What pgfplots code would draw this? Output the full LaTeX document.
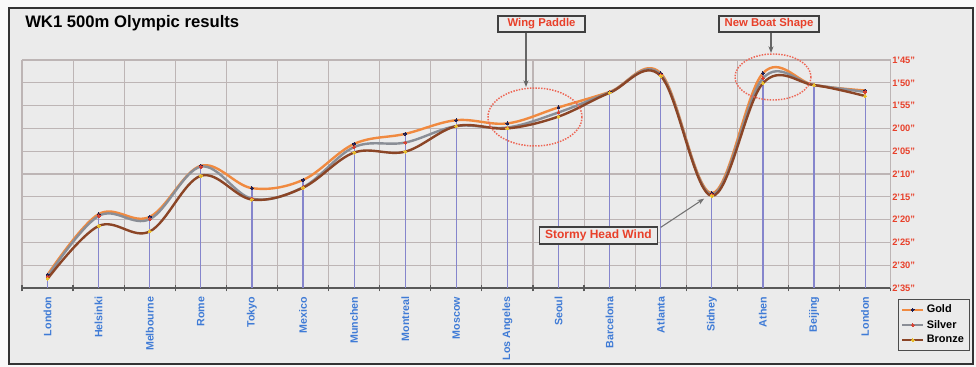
\documentclass[border=0pt]{standalone}
\usepackage{pgfplots}
\pgfplotsset{compat=1.18}
\usepackage{pgfplotstable}
\usepackage{fontspec}
\setmainfont{Liberation Sans}
\usetikzlibrary{arrows.meta}

\definecolor{goldline}{HTML}{F08A40}
\definecolor{silverline}{HTML}{8A8E96}
\definecolor{bronzeline}{HTML}{8B4526}
\definecolor{gridgray}{HTML}{BDB5B5}
\definecolor{dropblue}{HTML}{8585CC}
\definecolor{tickblue}{HTML}{3F7BD6}
\definecolor{labelred}{HTML}{E8402A}
\definecolor{panel}{HTML}{EBEBEB}
\definecolor{goldmark}{HTML}{1E1E50}
\definecolor{silvermark}{HTML}{D84030}
\definecolor{bronzemark}{HTML}{E8C030}

% winning times in seconds, one row per Games
\pgfplotstableread{
x gold silver bronze
0  152.1 152.5 153.0
1  138.8 139.2 141.4
2  139.4 139.9 142.6
3  128.2 128.4 130.4
4  133.1 135.4 135.6
5  131.3 132.9 133.0
6  123.4 124.1 125.3
7  121.2 123.1 125.1
8  118.2 119.5 119.5
9  118.9 119.8 120.0
10 115.4 116.5 117.4
11 112.0 112.1 112.2
12 107.9 108.2 108.5
13 134.2 134.5 134.8
14 107.9 109.0 110.1
15 110.5 110.5 110.5
16 111.7 112.0 112.9
}\results

\begin{document}
\begin{tikzpicture}
\path[use as bounding box] (0,0) rectangle (732pt,275.25pt);
\begin{scope}[yshift=275.25pt, x=0.75pt, y=-0.75pt]
  \fill[white!95!gray] (0,0) rectangle (976,367);
  \draw[fill=panel, draw=black!80, line width=1.4pt] (9,8) rectangle (973,364);
  \node[anchor=base west, inner sep=0pt, font=\bfseries\fontsize{12.5}{14}\selectfont] at (25,28) {WK1 500m Olympic results};
\end{scope}

\begin{axis}[
  at={(16.5pt,59.25pt)}, anchor=south west,
  scale only axis, width=651.5pt, height=171pt,
  xmin=-0.5, xmax=16.5, ymin=105, ymax=155, y dir=reverse,
  axis x line*=bottom, axis y line*=right,
  x axis line style={-, draw=black!65, line width=1pt},
  y axis line style={-, draw=gridgray, line width=0.8pt},
  xtick={-0.5,0.5,1.5,2.5,3.5,4.5,5.5,6.5,7.5,8.5,9.5,10.5,11.5,12.5,13.5,14.5,15.5,16.5},
  x tick label as interval,
  xticklabels={London,Helsinki,Melbourne,Rome,Tokyo,Mexico,Munchen,Montreal,Moscow,Los Angeles,Seoul,Barcelona,Atlanta,Sidney,Athen,Beijing,London},
  xticklabel style={rotate=90, anchor=east, text=tickblue, font=\bfseries\fontsize{8}{9}\selectfont, inner sep=1pt, xshift=-3pt},
  xtick style={draw=black!65, line width=0.9pt},
  xtick align=center, major tick length=5pt,
  ytick={105,110,...,155},
  yticklabels={1’45”,1’50”,1’55”,2’00”,2’05”,2’10”,2’15”,2’20”,2’25”,2’30”,2’35”},
  yticklabel style={text=labelred, font=\bfseries\fontsize{7}{8}\selectfont, inner sep=1pt},
  ytick style={draw=none},
  grid=major, major grid style={draw=gridgray, line width=0.8pt},
  legend style={at={(1.0084,-0.048)}, anchor=north west, draw=black!70, fill=panel, line width=0.9pt,
    font=\bfseries\fontsize{8.2}{10}\selectfont, inner sep=2pt, row sep=0pt},
  legend cell align=left,
  legend image code/.code={\draw[#1, mark repeat=2, mark phase=2] plot coordinates {(0cm,0cm) (0.27cm,0cm) (0.54cm,0cm)};},
]
% drop lines from the axis up to each gold time
\addplot[draw=none, forget plot, error bars/.cd, y dir=plus, y explicit,
  error bar style={draw=dropblue, line width=0.9pt}, error mark=none]
  table[x=x, y=gold, y error expr=155-\thisrow{gold}] {\results};

\addplot[goldline, line width=1.8pt, smooth, tension=0.6, mark=*,
  mark size=1.1pt, mark options={fill=goldmark, draw=goldmark, line width=0pt}]
  table[x=x, y=gold] {\results};
\addlegendentry{Gold}
\addplot[silverline, line width=1.8pt, smooth, tension=0.6, mark=*,
  mark size=1.1pt, mark options={fill=silvermark, draw=silvermark, line width=0pt}]
  table[x=x, y=silver] {\results};
\addlegendentry{Silver}
\addplot[bronzeline, line width=1.8pt, smooth, tension=0.6, mark=*,
  mark size=1.1pt, mark options={fill=bronzemark, draw=bronzemark, line width=0pt}]
  table[x=x, y=bronze] {\results};
\addlegendentry{Bronze}

% stormy head wind callout pointing at the Sydney dip
\draw[-{Stealth[length=5pt]}, draw=black!55, line width=0.8pt] (axis cs:12.0,141.7) -- (axis cs:12.85,135.4);
\node[draw=black!75, line width=1.2pt, fill=panel, text=labelred, inner sep=2pt,
  minimum width=118*0.75pt, font=\bfseries\fontsize{9}{10}\selectfont] at (axis cs:10.78,143.5) {Stormy Head Wind};
\end{axis}

\begin{scope}[yshift=275.25pt, x=0.75pt, y=-0.75pt]
  % wing paddle callout
  \draw[densely dotted, draw=labelred!80, line width=1.1pt] (535,117) ellipse [x radius=47, y radius=29];
  \draw[-{Stealth[length=5pt]}, draw=black!60, line width=0.8pt] (526,32) -- (526,87);
  \node[draw=black!75, line width=1.2pt, fill=panel, text=labelred, inner sep=2pt,
    minimum width=87*0.75pt, font=\bfseries\fontsize{8.5}{10}\selectfont] at (541.5,24) {Wing Paddle};
  % new boat shape callout
  \draw[densely dotted, draw=labelred!80, line width=1.1pt] (773,77) ellipse [x radius=38, y radius=23];
  \draw[-{Stealth[length=5pt]}, draw=black!60, line width=0.8pt] (771,32) -- (771,53);
  \node[draw=black!75, line width=1.2pt, fill=panel, text=labelred, inner sep=2pt,
    minimum width=100*0.75pt, font=\bfseries\fontsize{8.5}{10}\selectfont] at (769,24) {New Boat Shape};
\end{scope}
\end{tikzpicture}
\end{document}
